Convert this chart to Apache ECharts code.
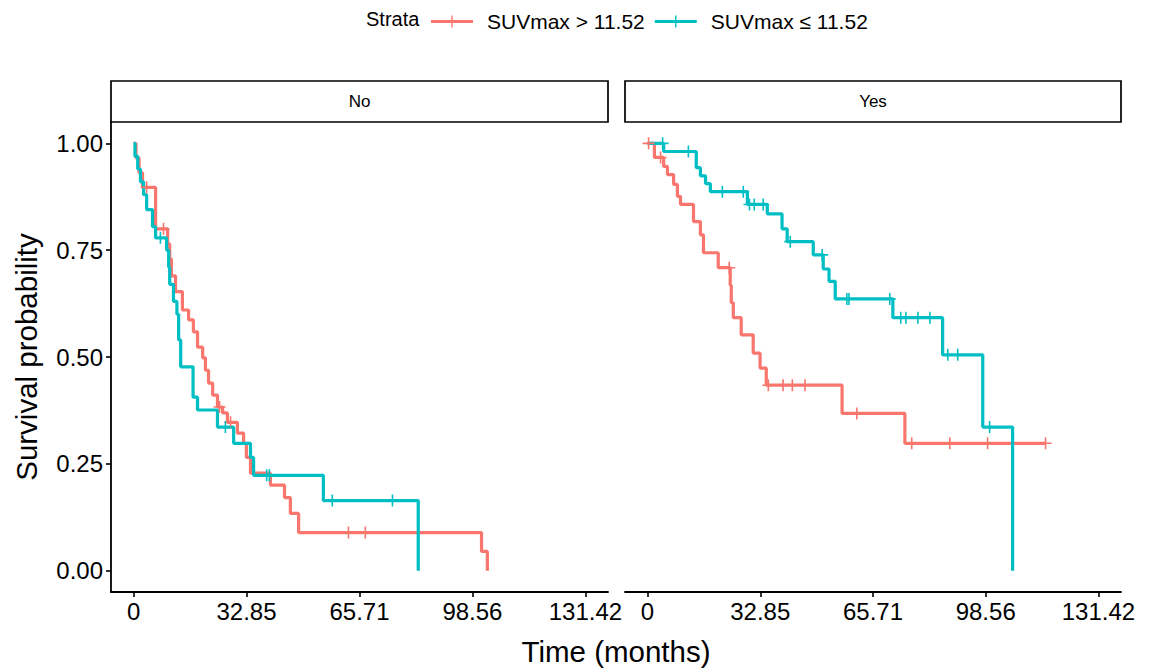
<!DOCTYPE html>
<html>
<head>
<meta charset="utf-8">
<script src="https://cdn.jsdelivr.net/npm/echarts@6/dist/echarts.min.js"></script>
<style>html,body{margin:0;padding:0;background:#fff}#c{width:1155px;height:671px}</style>
</head>
<body>
<div id="c"></div>
<script>
// ---- data ----
const xTicks = [0, 32.85, 65.71, 98.56, 131.42];
const yTicks = [0, 0.25, 0.5, 0.75, 1];
const panels = ['No', 'Yes'];
const strata = ['SUVmax > 11.52', 'SUVmax \u2264 11.52'];

// Panel "No", SUVmax > 11.52
const noHighTimes = [0.7,1.6,2.6,6.4,9.9,10.5,11.0,12.2,14.2,16.0,17.4,18.6,20.1,20.9,21.8,23.0,24.4,25.9,27.3,30.2,32.0,32.8,34.0,39.8,43.9,45.6,48.0,101.2,102.9];
const noHighSurv  = [0.966,0.931,0.897,0.80,0.765,0.73,0.69,0.653,0.61,0.587,0.559,0.523,0.498,0.469,0.439,0.411,0.383,0.369,0.347,0.322,0.298,0.265,0.228,0.200,0.171,0.134,0.089,0.045,0];
const noHighCens  = [3.8,8.7,25.0,28.2,62.5,67.4];

// Panel "No", SUVmax <= 11.52
const noLowTimes = [0.4,1.2,2.0,2.9,3.8,5.5,6.4,9.6,10.2,10.5,11.6,12.6,13.1,13.7,17.3,18.6,24.4,29.1,34.0,34.9,55.2,82.8];
const noLowSurv  = [0.97,0.94,0.91,0.88,0.845,0.805,0.779,0.75,0.71,0.67,0.63,0.60,0.54,0.477,0.406,0.376,0.336,0.298,0.265,0.223,0.164,0];
const noLowCens  = [7.8,26.7,38.7,39.5,57.8,75.3];

// Panel "Yes", SUVmax > 11.52
const yesHighTimes = [2.0,4.7,5.8,7.6,8.7,9.6,13.4,15.4,16.3,20.6,24.1,24.4,25.0,27.3,30.8,32.8,34.6,56.7,75.0];
const yesHighSurv  = [0.967,0.946,0.927,0.904,0.876,0.857,0.817,0.786,0.744,0.709,0.668,0.627,0.592,0.552,0.509,0.474,0.434,0.368,0.298];
const yesHighCens  = [0.3,3.8,23.8,35.2,39.5,42.2,45.9,61.0,77.0,88.1,99.1,116.0];

// Panel "Yes", SUVmax <= 11.52
const yesLowTimes = [4.7,14.2,15.4,16.9,18.3,29.1,34.9,39.2,40.7,48.3,51.2,52.9,54.7,71.5,86.0,97.7,106.4];
const yesLowSurv  = [0.981,0.943,0.924,0.906,0.887,0.857,0.835,0.80,0.770,0.739,0.706,0.677,0.636,0.592,0.505,0.336,0];
const yesLowCens  = [4.4,11.9,21.8,27.9,29.7,31.1,33.7,41.6,50.9,58.1,58.7,70.6,73.8,75.3,78.8,82.3,87.5,90.4,99.7];

// ---- helpers ----
const RED = '#F8766D', TEAL = '#00BFC4';
const FONT = '"Liberation Sans", Arial, Helvetica, sans-serif';
function curve(times, surv, cens) {
  const pts = [[0, 1]];
  times.forEach((t, i) => pts.push([t, surv[i]]));
  const lastT = times[times.length - 1];
  const maxC = Math.max.apply(null, cens);
  if (maxC > lastT) pts.push([maxC, surv[surv.length - 1]]);
  return pts;
}
function survAt(times, surv, t) {
  let s = 1;
  for (let i = 0; i < times.length; i++) { if (times[i] <= t) s = surv[i]; }
  return s;
}
function censPts(times, surv, cens) {
  return cens.map(t => [t, survAt(times, surv, t)]);
}
const PLUS = 'path://M-0.8,-6 H0.8 V6 H-0.8 Z M-6,-0.8 H6 V0.8 H-6 Z';
const KEY = 'path://M0,5.6 H42 V8.4 H0 Z M20.3,1 H21.7 V13 H20.3 Z';

const XMIN = -0.05 * 131.42, XMAX = 131.42 * 1.05;
function xAxis(gi) {
  return {
    type: 'value', gridIndex: gi, min: XMIN, max: XMAX,
    splitLine: {show: false},
    axisLine: {show: true, onZero: false, lineStyle: {color: '#000', width: 1.8}},
    axisTick: {show: true, length: 5, lineStyle: {color: '#000', width: 1.6}, customValues: xTicks},
    axisLabel: {show: true, customValues: xTicks, color: '#000', fontSize: 24, fontFamily: FONT, margin: 7,
      formatter: v => String(v)}
  };
}
function yAxis(gi, show) {
  return {
    type: 'value', gridIndex: gi, min: -0.05, max: 1.05,
    splitLine: {show: false},
    axisLine: {show: show, onZero: false, lineStyle: {color: '#000', width: 1.8}},
    axisTick: {show: show, length: 5, lineStyle: {color: '#000', width: 1.6}, customValues: yTicks},
    axisLabel: {show: show, customValues: yTicks, color: '#000', fontSize: 24, fontFamily: FONT, margin: 8,
      formatter: v => v.toFixed(2)},
    name: show ? 'Survival probability' : '', nameLocation: 'middle', nameGap: 70, nameRotate: 90,
    nameTextStyle: {color: '#000', fontSize: 29.5, fontFamily: FONT}
  };
}
function lineSeries(name, gi, data, color) {
  return {type: 'line', name: name, xAxisIndex: gi, yAxisIndex: gi, data: data, step: 'end',
    showSymbol: false, symbol: 'none', lineStyle: {color: color, width: 3.2}, itemStyle: {color: color},
    silent: true};
}
function censSeries(name, gi, data, color) {
  return {type: 'scatter', name: name, xAxisIndex: gi, yAxisIndex: gi, data: data,
    symbol: PLUS, symbolSize: 12, itemStyle: {color: color, opacity: 1}, silent: true, z: 3};
}

const grids = [
  {left: 111, top: 122, width: 497, height: 470},
  {left: 625, top: 122, width: 496, height: 470}
];

const chart = echarts.init(document.getElementById('c'), null, {renderer: 'svg'});
chart.setOption({
  animation: false,
  backgroundColor: '#fff',
  grid: grids,
  xAxis: [xAxis(0), xAxis(1)],
  yAxis: [yAxis(0, true), yAxis(1, false)],
  legend: {
    data: [{name: strata[0], icon: KEY}, {name: strata[1], icon: KEY}],
    left: 426, top: 6, itemWidth: 42, itemHeight: 14, itemGap: 10,
    textStyle: {color: '#000', fontSize: 21, fontFamily: FONT, padding: [0, 0, 0, 9]},
    selectedMode: false
  },
  graphic: [
    {type: 'text', left: 366, top: 9, style: {text: 'Strata', fill: '#000', font: '20px ' + FONT}},
    {type: 'rect', shape: {x: grids[0].left, y: 81, width: grids[0].width, height: 41},
      style: {fill: '#fff', stroke: '#000', lineWidth: 1.7}},
    {type: 'text', x: grids[0].left + grids[0].width / 2, y: 101.5,
      style: {text: panels[0], fill: '#000', font: '17px ' + FONT, textAlign: 'center', textVerticalAlign: 'middle'}},
    {type: 'rect', shape: {x: grids[1].left, y: 81, width: grids[1].width, height: 41},
      style: {fill: '#fff', stroke: '#000', lineWidth: 1.7}},
    {type: 'text', x: grids[1].left + grids[1].width / 2, y: 101.5,
      style: {text: panels[1], fill: '#000', font: '17px ' + FONT, textAlign: 'center', textVerticalAlign: 'middle'}},
    {type: 'text', x: 616, y: 651,
      style: {text: 'Time (months)', fill: '#000', font: '29.5px ' + FONT, textAlign: 'center', textVerticalAlign: 'middle'}}
  ],
  series: [
    lineSeries(strata[0], 0, curve(noHighTimes, noHighSurv, noHighCens), RED),
    lineSeries(strata[1], 0, curve(noLowTimes, noLowSurv, noLowCens), TEAL),
    lineSeries(strata[0], 1, curve(yesHighTimes, yesHighSurv, yesHighCens), RED),
    lineSeries(strata[1], 1, curve(yesLowTimes, yesLowSurv, yesLowCens), TEAL),
    censSeries(strata[0], 0, censPts(noHighTimes, noHighSurv, noHighCens), RED),
    censSeries(strata[1], 0, censPts(noLowTimes, noLowSurv, noLowCens), TEAL),
    censSeries(strata[0], 1, censPts(yesHighTimes, yesHighSurv, yesHighCens), RED),
    censSeries(strata[1], 1, censPts(yesLowTimes, yesLowSurv, yesLowCens), TEAL)
  ]
});
</script>
</body>
</html>
